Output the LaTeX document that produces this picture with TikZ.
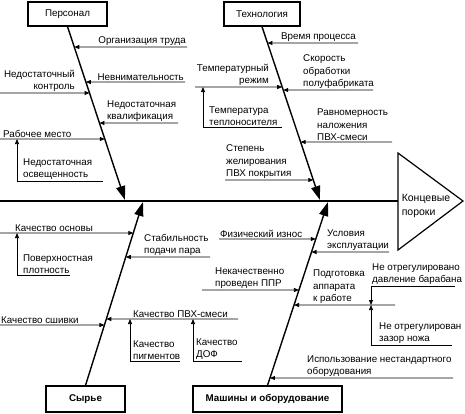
\documentclass[tikz,border=0pt]{standalone}
\usepackage{fontspec}
\setmainfont{Liberation Sans}
\usetikzlibrary{arrows.meta,calc}
\begin{document}
\begin{tikzpicture}[x=1pt,y=-1pt,
  box/.style={draw,line width=1.2pt,minimum height=24pt,inner sep=2pt,font=\fontsize{9.8}{11}\selectfont},
  bone/.style={line width=1.4pt,-{Triangle[length=14pt,width=9pt]}},
  br/.style={line width=0.75pt,-{Triangle[length=5pt,width=4pt]}},
  ln/.style={line width=0.75pt},
  spine/.style={line width=1.3pt},
  lbl/.style={inner sep=1pt,align=left,font=\fontsize{9.8}{12.7}\selectfont},
]
\useasboundingbox (0,0) rectangle (465,413);
% boxes
\node[box,minimum width=79pt] (P) at (67.5,14) {Персонал};
\node[box,minimum width=76pt] (T) at (262,14) {Технология};
\node[box,minimum width=79pt,minimum height=26pt,font=\fontsize{9.8}{11}\selectfont\bfseries] (S) at (85.5,399) {Сырье};
\node[box,minimum width=149pt,minimum height=26pt,font=\fontsize{9.8}{11}\selectfont\bfseries] (M) at (267.5,399) {Машины и оборудование};
% result
\coordinate (r1) at (398,153);
\coordinate (r2) at (463,201);
\coordinate (r3) at (398,250);
\draw[line width=1.2pt,line join=miter] (r1) -- (r2) -- (r3) -- cycle;
\node[lbl,font=\fontsize{10.5}{13.5}\selectfont] (res) at (426,206) {Концевые\\пороки};
\coordinate (sp0) at (0,201);
\draw[spine] (sp0) -- (sp0 -| r1);
% bones
\coordinate (Pa) at (P.south); \coordinate (Pb) at (125,200);
\coordinate (Ta) at (T.south); \coordinate (Tb) at (320,200);
\coordinate (Sa) at (S.north); \coordinate (Sb) at (143,202);
\coordinate (Ma) at (M.north); \coordinate (Mb) at (328,202);
\draw[bone] (Pa) -- (Pb);
\draw[bone] (Ta) -- (Tb);
\draw[bone] (Sa) -- (Sb);
\draw[bone] (Ma) -- (Mb);
% ---------- Personal
\coordinate (p1) at (187,47);
\node[lbl,anchor=south east] (p1t) at (p1) {Организация труда};
\draw[br] (p1) -- (intersection of Pa--Pb and 0,47--1,47);
\coordinate (p2) at (185,82);
\node[lbl,anchor=south east] (p2t) at (p2) {Невнимательность};
\draw[br] (p2) -- (intersection of Pa--Pb and 0,82--1,82);
\coordinate (p3) at (0,93);
\node[lbl,anchor=south east,align=right] (p3t) at (76,93) {Недостаточный\\контроль};
\draw[br] (p3) -- (intersection of Pa--Pb and 0,93--1,93);
\coordinate (p4) at (178,123);
\node[lbl,anchor=south west] (p4t) at (106,123) {Недостаточная\\квалификация};
\draw[br] (p4) -- (intersection of Pa--Pb and 0,123--1,123);
\coordinate (p5) at (0,139);
\node[lbl,anchor=south west] (p5t) at (2,139) {Рабочее место};
\draw[br] (p5) -- (intersection of Pa--Pb and 0,139--1,139);
\coordinate (p6) at (17,181); \coordinate (p6e) at (103,181);
\node[lbl,anchor=south west] (p6t) at (22,181) {Недостаточная\\освещенность};
\draw[br] (p6e) -- (p6) -- (p6 |- p5);
% ---------- Technology
\coordinate (t1) at (358,43);
\node[lbl,anchor=south west] (t1t) at (280,43) {Время процесса};
\draw[br] (t1) -- (intersection of Ta--Tb and 0,43--1,43);
\coordinate (t2) at (195,87);
\node[lbl,anchor=south east,align=right] (t2t) at (270,87) {Температурный\\режим};
\draw[br] (t2) -- (intersection of Ta--Tb and 0,87--1,87);
\coordinate (t3) at (373,90);
\node[lbl,anchor=south west] (t3t) at (302,90) {Скорость\\обработки\\полуфабриката};
\draw[br] (t3) -- (intersection of Ta--Tb and 0,90--1,90);
\coordinate (t4) at (203,127); \coordinate (t4e) at (282,127);
\node[lbl,anchor=south west] (t4t) at (208,127) {Температура\\теплоносителя};
\draw[br] (t4e) -- (t4) -- (t4 |- t2);
\coordinate (t5) at (392,142);
\node[lbl,anchor=south west] (t5t) at (316,142) {Равномерность\\наложения\\ПВХ-смеси};
\draw[br] (t5) -- (intersection of Ta--Tb and 0,142--1,142);
\coordinate (t6) at (225,180);
\node[lbl,anchor=south west] (t6t) at (225,180) {Степень\\желирования\\ПВХ покрытия};
\draw[br] (t6) -- (intersection of Ta--Tb and 0,180--1,180);
% ---------- Raw material
\coordinate (s1) at (0,233);
\node[lbl,anchor=south west] (s1t) at (14,233) {Качество основы};
\draw[br] (s1) -- (intersection of Sa--Sb and 0,233--1,233);
\coordinate (s2) at (17,275); \coordinate (s2e) at (70,275);
\node[lbl,anchor=south west] (s2t) at (22,275) {Поверхностная\\плотность};
\draw[br] (s2e) -- (s2) -- (s2 |- s1);
\coordinate (s3) at (210,257);
\node[lbl,anchor=south west] (s3t) at (143,257) {Стабильность\\подачи пара};
\draw[br] (s3) -- (intersection of Sa--Sb and 0,257--1,257);
\coordinate (s4) at (0,325);
\node[lbl,anchor=south west] (s4t) at (0,325) {Качество сшивки};
\draw[br] (s4) -- (intersection of Sa--Sb and 0,325--1,325);
\coordinate (s5) at (238,319);
\node[lbl,anchor=south west] (s5t) at (132,319) {Качество ПВХ-смеси};
\draw[br] (s5) -- (intersection of Sa--Sb and 0,319--1,319);
\coordinate (s6) at (130,361); \coordinate (s6e) at (180,361);
\node[lbl,anchor=south west] (s6t) at (132,361) {Качество\\пигментов};
\draw[br] (s6e) -- (s6) -- (s6 |- s5);
\coordinate (s7) at (193,361); \coordinate (s7e) at (242,361);
\node[lbl,anchor=south west] (s7t) at (195,361) {Качество\\ДОФ};
\draw[br] (s7e) -- (s7) -- (s7 |- s5);
% ---------- Machines
\coordinate (m1) at (219,239);
\node[lbl,anchor=south west] (m1t) at (219,239) {Физический износ};
\draw[br] (m1) -- (intersection of Ma--Mb and 0,239--1,239);
\coordinate (m2) at (389,252);
\node[lbl,anchor=south west] (m2t) at (326,252) {Условия\\эксплуатации};
\draw[br] (m2) -- (intersection of Ma--Mb and 0,252--1,252);
\coordinate (m3) at (202,290);
\node[lbl,anchor=south west] (m3t) at (214,290) {Некачественно\\проведен ППР};
\draw[br] (m3) -- (intersection of Ma--Mb and 0,290--1,290);
\coordinate (m4) at (395,305);
\node[lbl,anchor=south west] (m4t) at (312,305) {Подготовка\\аппарата\\к работе};
\draw[br] (m4) -- (intersection of Ma--Mb and 0,305--1,305);
\coordinate (m5) at (371,286); \coordinate (m5e) at (455,286);
\node[lbl,anchor=south west] (m5t) at (371,286) {Не отрегулировано\\давление барабана};
\draw[br] (m5e) -- (m5) -- (m5 |- m4);
\coordinate (m6) at (371,345); \coordinate (m6e) at (452,345);
\node[lbl,anchor=south west] (m6t) at (378,345) {Не отрегулирован\\зазор ножа};
\draw[br] (m6e) -- (m6) -- (m6 |- m4);
\coordinate (m7) at (453,378);
\node[lbl,anchor=south west] (m7t) at (306,378) {Использование нестандартного\\оборудования};
\draw[br] (m7) -- (intersection of Ma--Mb and 0,378--1,378);
\end{tikzpicture}
\end{document}
